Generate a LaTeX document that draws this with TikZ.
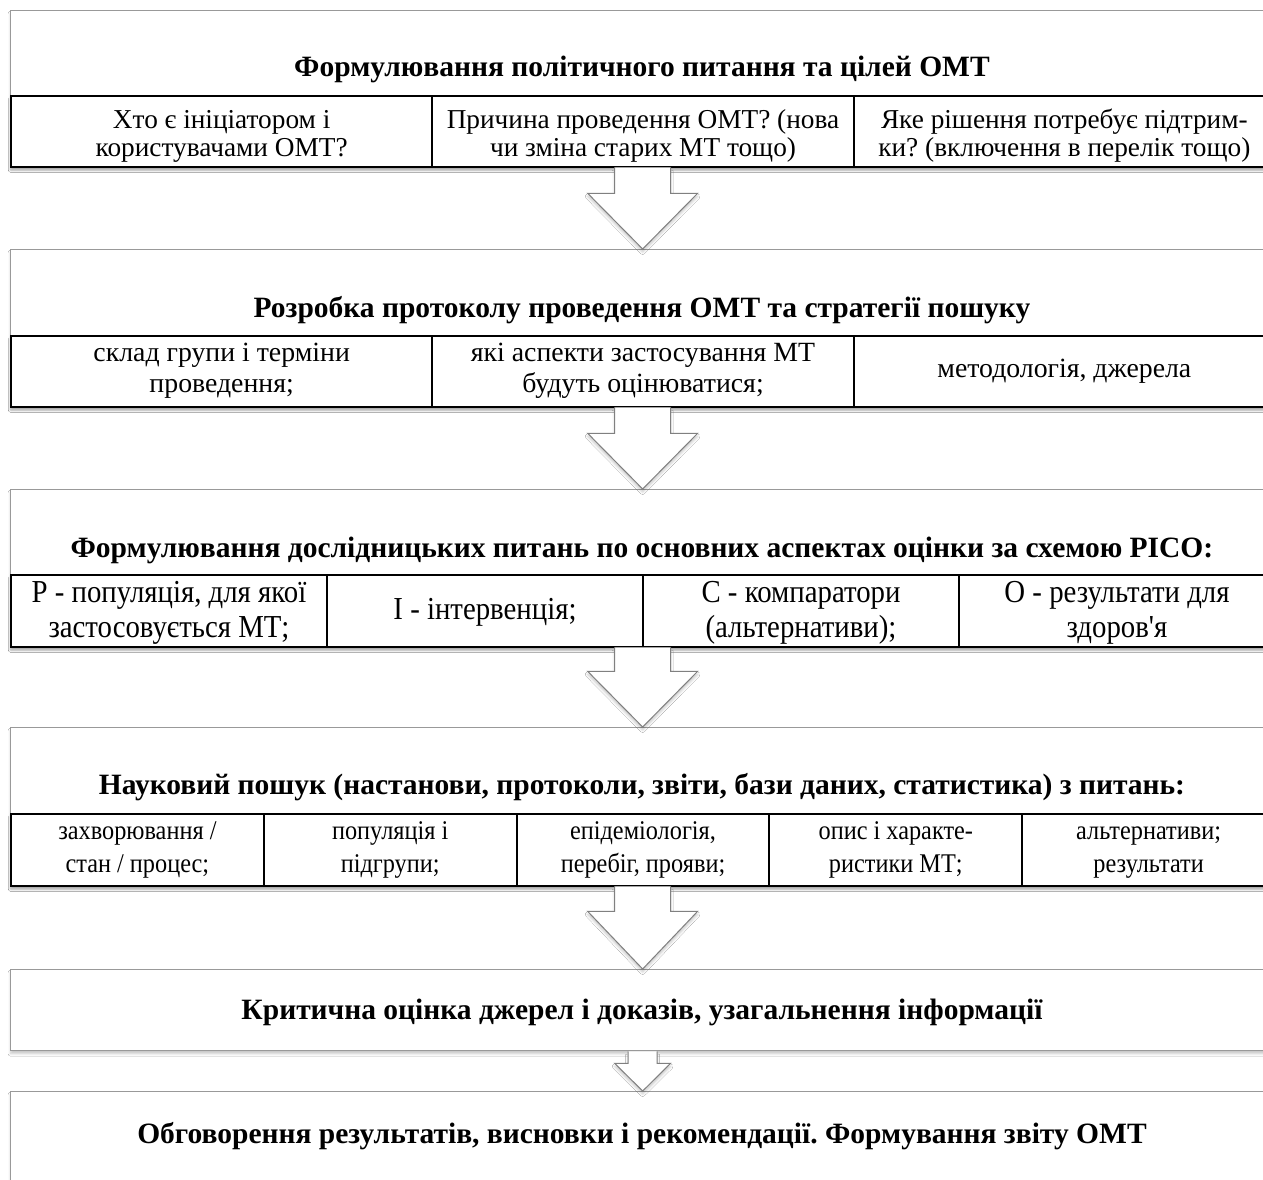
\documentclass[tikz,border=0pt]{standalone}
\usepackage{fontspec}
\setmainfont{Liberation Serif}
\newfontfamily\condf[FakeStretch=0.9]{Liberation Serif}
\usetikzlibrary{calc,shadows,shadows.blur}
\newcommand{\fA}{\fontsize{27.3}{28}\selectfont}
\newcommand{\fB}{\fontsize{27.8}{31}\selectfont}
\newcommand{\fC}{\condf\fontsize{32}{35}\selectfont}
\newcommand{\fD}{\condf\fontsize{27}{33}\selectfont}
\newcommand{\titlefnt}{\fontsize{29.5}{34}\selectfont\bfseries}
\frenchspacing
\tikzset{
  shd/.style={blur shadow={shadow xshift=0pt, shadow yshift=-3pt, shadow blur radius=2.5pt, shadow opacity=22}},
  outerbox/.style={draw=black!40, line width=1.3pt, fill=white, shd, anchor=north west, inner sep=0pt, minimum width=1264pt},
  rowbox/.style={draw=black, line width=2pt, fill=white, shd, anchor=north west, inner sep=0pt, minimum width=1264pt},
  cell/.style={draw=black, line width=2pt, anchor=north west, inner sep=0pt},
  ctext/.style={inner sep=0pt, align=center},
  ttl/.style={font=\titlefnt, inner sep=0pt, anchor=base},
  arr/.style={draw=black!50, line width=1pt, fill=white, shd}
}
\begin{document}
\begin{tikzpicture}[x=1pt,y=-1pt]
\clip (0,0) rectangle (1263,1180);
\fill[white] (0,0) rectangle (1263,1180);
% outer boxes
\node[outerbox, minimum height=156pt] (b1) at (10,10) {};
\node[outerbox, minimum height=157pt] (b2) at (10,249) {};
\node[outerbox, minimum height=157pt] (b3) at (10,489) {};
\node[outerbox, minimum height=158pt] (b4) at (10,727) {};
\node[outerbox, minimum height=81pt]  (b5) at (10,969) {};
\node[outerbox, minimum height=200pt] (b6) at (10,1091) {};
% titles
\node[ttl] (t1) at (642,77) {Формулювання політичного питання та цілей ОМТ};
\node[ttl] (t2) at (642,317) {Розробка протоколу проведення ОМТ та стратегії пошуку};
\node[ttl] (t3) at (642,557) {Формулювання дослідницьких питань по основних аспектах оцінки за схемою PICO:};
\node[ttl] (t4) at (642,794) {Науковий пошук (настанови, протоколи, звіти, бази даних, статистика) з питань:};
\node[ttl] (t5) at (642,1019) {Критична оцінка джерел і доказів, узагальнення інформації};
\node[ttl] (t6) at (642,1143) {Обговорення результатів, висновки і рекомендації. Формування звіту ОМТ};
% row 1
\node[rowbox, minimum height=71pt] (r1) at (10,95) {};
\node[cell, minimum width=421.33pt, minimum height=71pt] (c11) at (10,95) {};
\node[cell, minimum width=421.33pt, minimum height=71pt] (c12) at (431.33,95) {};
\node[cell, minimum width=421.33pt, minimum height=71pt] (c13) at (852.67,95) {};
\node[ctext, font=\fA] (c11t) at ($(c11.center)+(0,5)$) {\strut Хто є ініціатором і\\користувачами ОМТ?\strut};
\node[ctext, font=\fA] (c12t) at ($(c12.center)+(0,5)$) {\strut Причина проведення ОМТ? (нова\\чи зміна старих МТ тощо)\strut};
\node[ctext, font=\fA] (c13t) at ($(c13.center)+(0,5)$) {\strut Яке рішення потребує підтрим-\\ки? (включення в перелік тощо)\strut};
% row 2
\node[rowbox, minimum height=71pt] (r2) at (10,335) {};
\node[cell, minimum width=421.33pt, minimum height=71pt] (c21) at (10,335) {};
\node[cell, minimum width=421.33pt, minimum height=71pt] (c22) at (431.33,335) {};
\node[cell, minimum width=421.33pt, minimum height=71pt] (c23) at (852.67,335) {};
\node[ctext, font=\fB] (c21t) at ($(c21.center)+(0,-1)$) {\strut склад групи і терміни\\проведення;\strut};
\node[ctext, font=\fB] (c22t) at ($(c22.center)+(0,-1)$) {\strut які аспекти застосування МТ\\будуть оцінюватися;\strut};
\node[ctext, font=\fB] (c23t) at ($(c23.center)+(0,0)$) {\strut методологія, джерела};
% row 3
\node[rowbox, minimum height=72pt] (r3) at (10,574) {};
\node[cell, minimum width=316pt, minimum height=72pt] (c31) at (10,574) {};
\node[cell, minimum width=316pt, minimum height=72pt] (c32) at (326,574) {};
\node[cell, minimum width=316pt, minimum height=72pt] (c33) at (642,574) {};
\node[cell, minimum width=316pt, minimum height=72pt] (c34) at (958,574) {};
\node[ctext, font=\fC] (c31t) at ($(c31.center)+(0,2)$) {\strut P - популяція, для якої\\застосовується МТ;\strut};
\node[ctext, font=\fC] (c32t) at ($(c32.center)+(0,1)$) {\strut I - інтервенція;};
\node[ctext, font=\fC] (c33t) at ($(c33.center)+(0,2)$) {\strut C - компаратори\\(альтернативи);\strut};
\node[ctext, font=\fC] (c34t) at ($(c34.center)+(0,2)$) {\strut O - результати для\\здоров'я\strut};
% row 4
\node[rowbox, minimum height=72pt] (r4) at (10,813) {};
\node[cell, minimum width=252.8pt, minimum height=72pt] (c41) at (10,813) {};
\node[cell, minimum width=252.8pt, minimum height=72pt] (c42) at (262.8,813) {};
\node[cell, minimum width=252.8pt, minimum height=72pt] (c43) at (515.6,813) {};
\node[cell, minimum width=252.8pt, minimum height=72pt] (c44) at (768.4,813) {};
\node[cell, minimum width=252.8pt, minimum height=72pt] (c45) at (1021.2,813) {};
\node[ctext, font=\fD] (c41t) at ($(c41.center)+(0,-1)$) {\strut захворювання /\\стан / процес;\strut};
\node[ctext, font=\fD] (c42t) at ($(c42.center)+(0,-1)$) {\strut популяція і\\підгрупи;\strut};
\node[ctext, font=\fD] (c43t) at ($(c43.center)+(0,-1)$) {\strut епідеміологія,\\перебіг, прояви;\strut};
\node[ctext, font=\fD] (c44t) at ($(c44.center)+(0,-1)$) {\strut опис і характе-\\ристики МТ;\strut};
\node[ctext, font=\fD] (c45t) at ($(c45.center)+(0,-1)$) {\strut альтернативи;\\результати\strut};
% arrows
\path[arr] let \p1=(b1.south), \p2=(b2.north) in (\x1-28pt,\y1) -- (\x1-28pt,\y1-26pt) -- (\x1-55pt,\y1-26pt) -- (\x2,\y2) -- (\x1+55pt,\y1-26pt) -- (\x1+28pt,\y1-26pt) -- (\x1+28pt,\y1);
\path[arr] let \p1=(b2.south), \p2=(b3.north) in (\x1-28pt,\y1) -- (\x1-28pt,\y1-26pt) -- (\x1-55pt,\y1-26pt) -- (\x2,\y2) -- (\x1+55pt,\y1-26pt) -- (\x1+28pt,\y1-26pt) -- (\x1+28pt,\y1);
\path[arr] let \p1=(b3.south), \p2=(b4.north) in (\x1-28pt,\y1) -- (\x1-28pt,\y1-24pt) -- (\x1-55pt,\y1-24pt) -- (\x2,\y2) -- (\x1+55pt,\y1-24pt) -- (\x1+28pt,\y1-24pt) -- (\x1+28pt,\y1);
\path[arr] let \p1=(b4.south), \p2=(b5.north) in (\x1-28pt,\y1) -- (\x1-28pt,\y1-25pt) -- (\x1-55pt,\y1-25pt) -- (\x2,\y2) -- (\x1+55pt,\y1-25pt) -- (\x1+28pt,\y1-25pt) -- (\x1+28pt,\y1);
\path[arr] let \p1=(b5.south), \p2=(b6.north) in (\x1-14.5pt,\y1) -- (\x1-14.5pt,\y1-12pt) -- (\x1-28pt,\y1-12pt) -- (\x2,\y2) -- (\x1+28pt,\y1-12pt) -- (\x1+14.5pt,\y1-12pt) -- (\x1+14.5pt,\y1);
\end{tikzpicture}
\end{document}
